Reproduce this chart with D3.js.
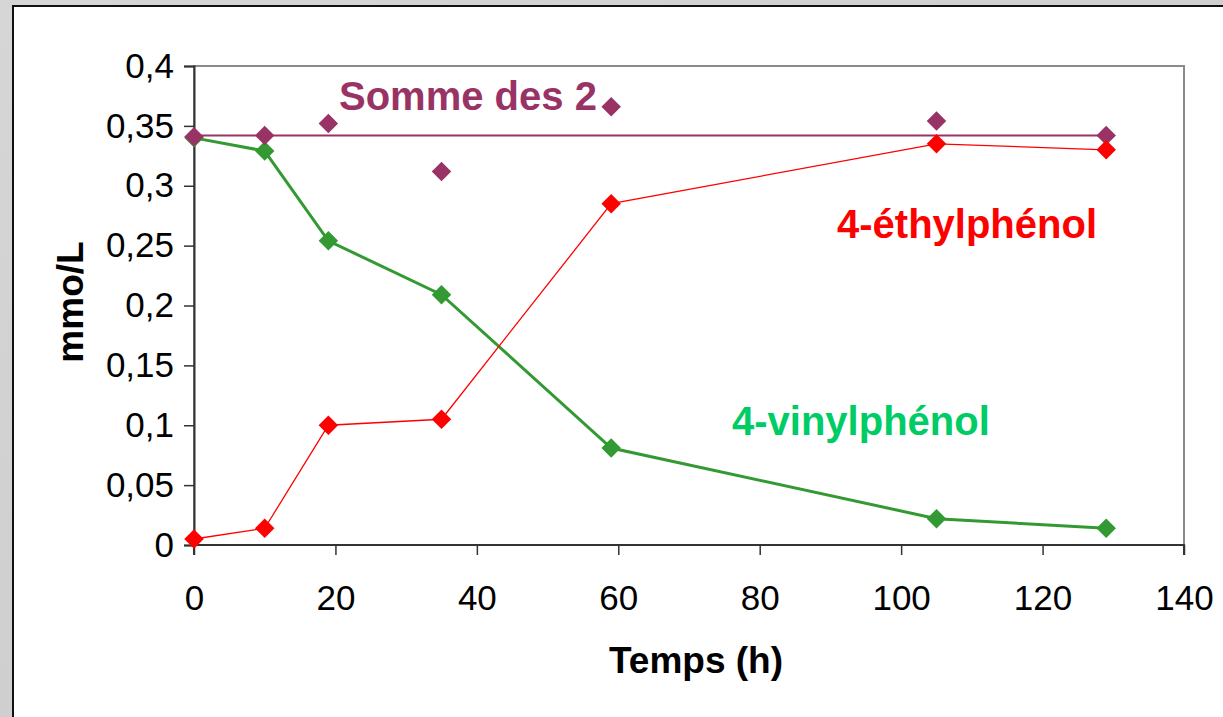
<!DOCTYPE html>
<html>
<head>
<meta charset="utf-8">
<script src="https://cdn.jsdelivr.net/npm/d3@7"></script>
<style>
  body { margin: 0; background: #d3d3d3; }
  svg { display: block; font-family: "Liberation Sans", Arial, sans-serif; }
</style>
</head>
<body>
<div id="chart"></div>
<script>
// time points (h)
const times = [0, 10, 19, 35, 59, 105, 129];
// mmol/L values
const vinylphenol = [0.340, 0.329, 0.254, 0.209, 0.081, 0.022, 0.014];
const ethylphenol = [0.005, 0.014, 0.100, 0.105, 0.285, 0.335, 0.330];
const somme = [0.341, 0.342, 0.352, 0.312, 0.366, 0.354, 0.342];
const sommeMoyenne = 0.342;

const xTickValues = [0, 20, 40, 60, 80, 100, 120, 140];
const yTickValues = [0, 0.05, 0.1, 0.15, 0.2, 0.25, 0.3, 0.35, 0.4];
const yTickLabels = ["0", "0,05", "0,1", "0,15", "0,2", "0,25", "0,3", "0,35", "0,4"];

const width = 1223;
const height = 717;
const margin = { left: 194, right: 1184, top: 66, bottom: 545 };

const purple = "#993366";
const red = "#ff0000";
const green = "#339933";

const xScale = d3.scaleLinear().domain([0, 140]).range([margin.left, margin.right]);
const yScale = d3.scaleLinear().domain([0, 0.4]).range([margin.bottom, margin.top]);

const svg = d3.select("#chart")
              .append("svg")
              .attr("width", width)
              .attr("height", height);

// grey background behind the chart
const grad = svg.append("defs").append("linearGradient")
                .attr("id", "bg").attr("x1", 0).attr("y1", 0).attr("x2", 1).attr("y2", 1);
grad.append("stop").attr("offset", "0%").attr("stop-color", "#d6d6d6");
grad.append("stop").attr("offset", "50%").attr("stop-color", "#cfcfcf");
grad.append("stop").attr("offset", "100%").attr("stop-color", "#dadada");
svg.append("rect").attr("width", width).attr("height", height).attr("fill", "url(#bg)");

// white chart area, border only visible on top and left
svg.append("rect")
   .attr("x", 13).attr("y", 6)
   .attr("width", 1400).attr("height", 900)
   .attr("fill", "#fff")
   .attr("stroke", "#111")
   .attr("stroke-width", 2);

// plot frame
svg.append("rect")
   .attr("x", margin.left).attr("y", margin.top)
   .attr("width", margin.right - margin.left)
   .attr("height", margin.bottom - margin.top)
   .attr("fill", "none")
   .attr("stroke", "#8a8a8a")
   .attr("stroke-width", 2);

// axes
const xAxis = d3.axisBottom(xScale)
                .tickValues(xTickValues)
                .tickSize(10)
                .tickPadding(30)
                .tickFormat(d3.format("d"));
const yAxis = d3.axisLeft(yScale)
                .tickValues(yTickValues)
                .tickSize(10)
                .tickPadding(10)
                .tickFormat((d, i) => yTickLabels[i]);

const gx = svg.append("g")
              .attr("transform", "translate(0," + margin.bottom + ")")
              .call(xAxis);
const gy = svg.append("g")
              .attr("transform", "translate(" + margin.left + ",0)")
              .call(yAxis);

[gx, gy].forEach(g => {
    g.select(".domain").attr("stroke", "#333").attr("stroke-width", 2);
    g.selectAll(".tick line").attr("stroke", "#333").attr("stroke-width", 1.5);
    g.selectAll(".tick text")
     .attr("fill", "#000")
     .attr("font-size", "35px")
     .attr("font-family", "Liberation Sans, Arial, sans-serif");
});
gx.select(".domain").attr("d", "M" + margin.left + ",10V0H" + margin.right + "V10");

// axis titles
svg.append("text")
   .attr("x", 696).attr("y", 673)
   .attr("text-anchor", "middle")
   .attr("font-size", "37px")
   .attr("font-weight", "bold")
   .text("Temps (h)");

svg.append("text")
   .attr("transform", "translate(83,302) rotate(-90)")
   .attr("text-anchor", "middle")
   .attr("font-size", "37px")
   .attr("font-weight", "bold")
   .text("mmo/L");

const line = d3.line()
               .x(d => xScale(d[0]))
               .y(d => yScale(d[1]));
const diamond = d3.symbol(d3.symbolSquare, 190);

function drawSeries(values, color, strokeWidth) {
    const pts = times.map((t, i) => [t, values[i]]);
    svg.append("path")
       .datum(pts)
       .attr("d", line)
       .attr("fill", "none")
       .attr("stroke", color)
       .attr("stroke-width", strokeWidth);
    svg.append("g").selectAll("path")
       .data(pts)
       .enter()
       .append("path")
       .attr("d", diamond)
       .attr("transform", d => "translate(" + xScale(d[0]) + "," + yScale(d[1]) + ") rotate(45)")
       .attr("fill", color);
}

drawSeries(vinylphenol, green, 3);

// sum: constant line plus loose points
svg.append("line")
   .attr("x1", xScale(times[0])).attr("x2", xScale(times[times.length - 1]))
   .attr("y1", yScale(sommeMoyenne)).attr("y2", yScale(sommeMoyenne))
   .attr("stroke", purple)
   .attr("stroke-width", 2);
svg.append("g").selectAll("path")
   .data(times.map((t, i) => [t, somme[i]]))
   .enter()
   .append("path")
   .attr("d", diamond)
   .attr("transform", d => "translate(" + xScale(d[0]) + "," + yScale(d[1]) + ") rotate(45)")
   .attr("fill", purple);

drawSeries(ethylphenol, red, 1.3);

// series labels
svg.append("text").attr("x", 339).attr("y", 110)
   .attr("font-size", "40px").attr("font-weight", "bold").attr("fill", purple)
   .text("Somme des 2");
svg.append("text").attr("x", 837).attr("y", 238)
   .attr("font-size", "40px").attr("font-weight", "bold").attr("fill", red)
   .text("4-éthylphénol");
svg.append("text").attr("x", 732).attr("y", 435)
   .attr("font-size", "40px").attr("font-weight", "bold").attr("fill", "#00cc66")
   .text("4-vinylphénol");
</script>
</body>
</html>
